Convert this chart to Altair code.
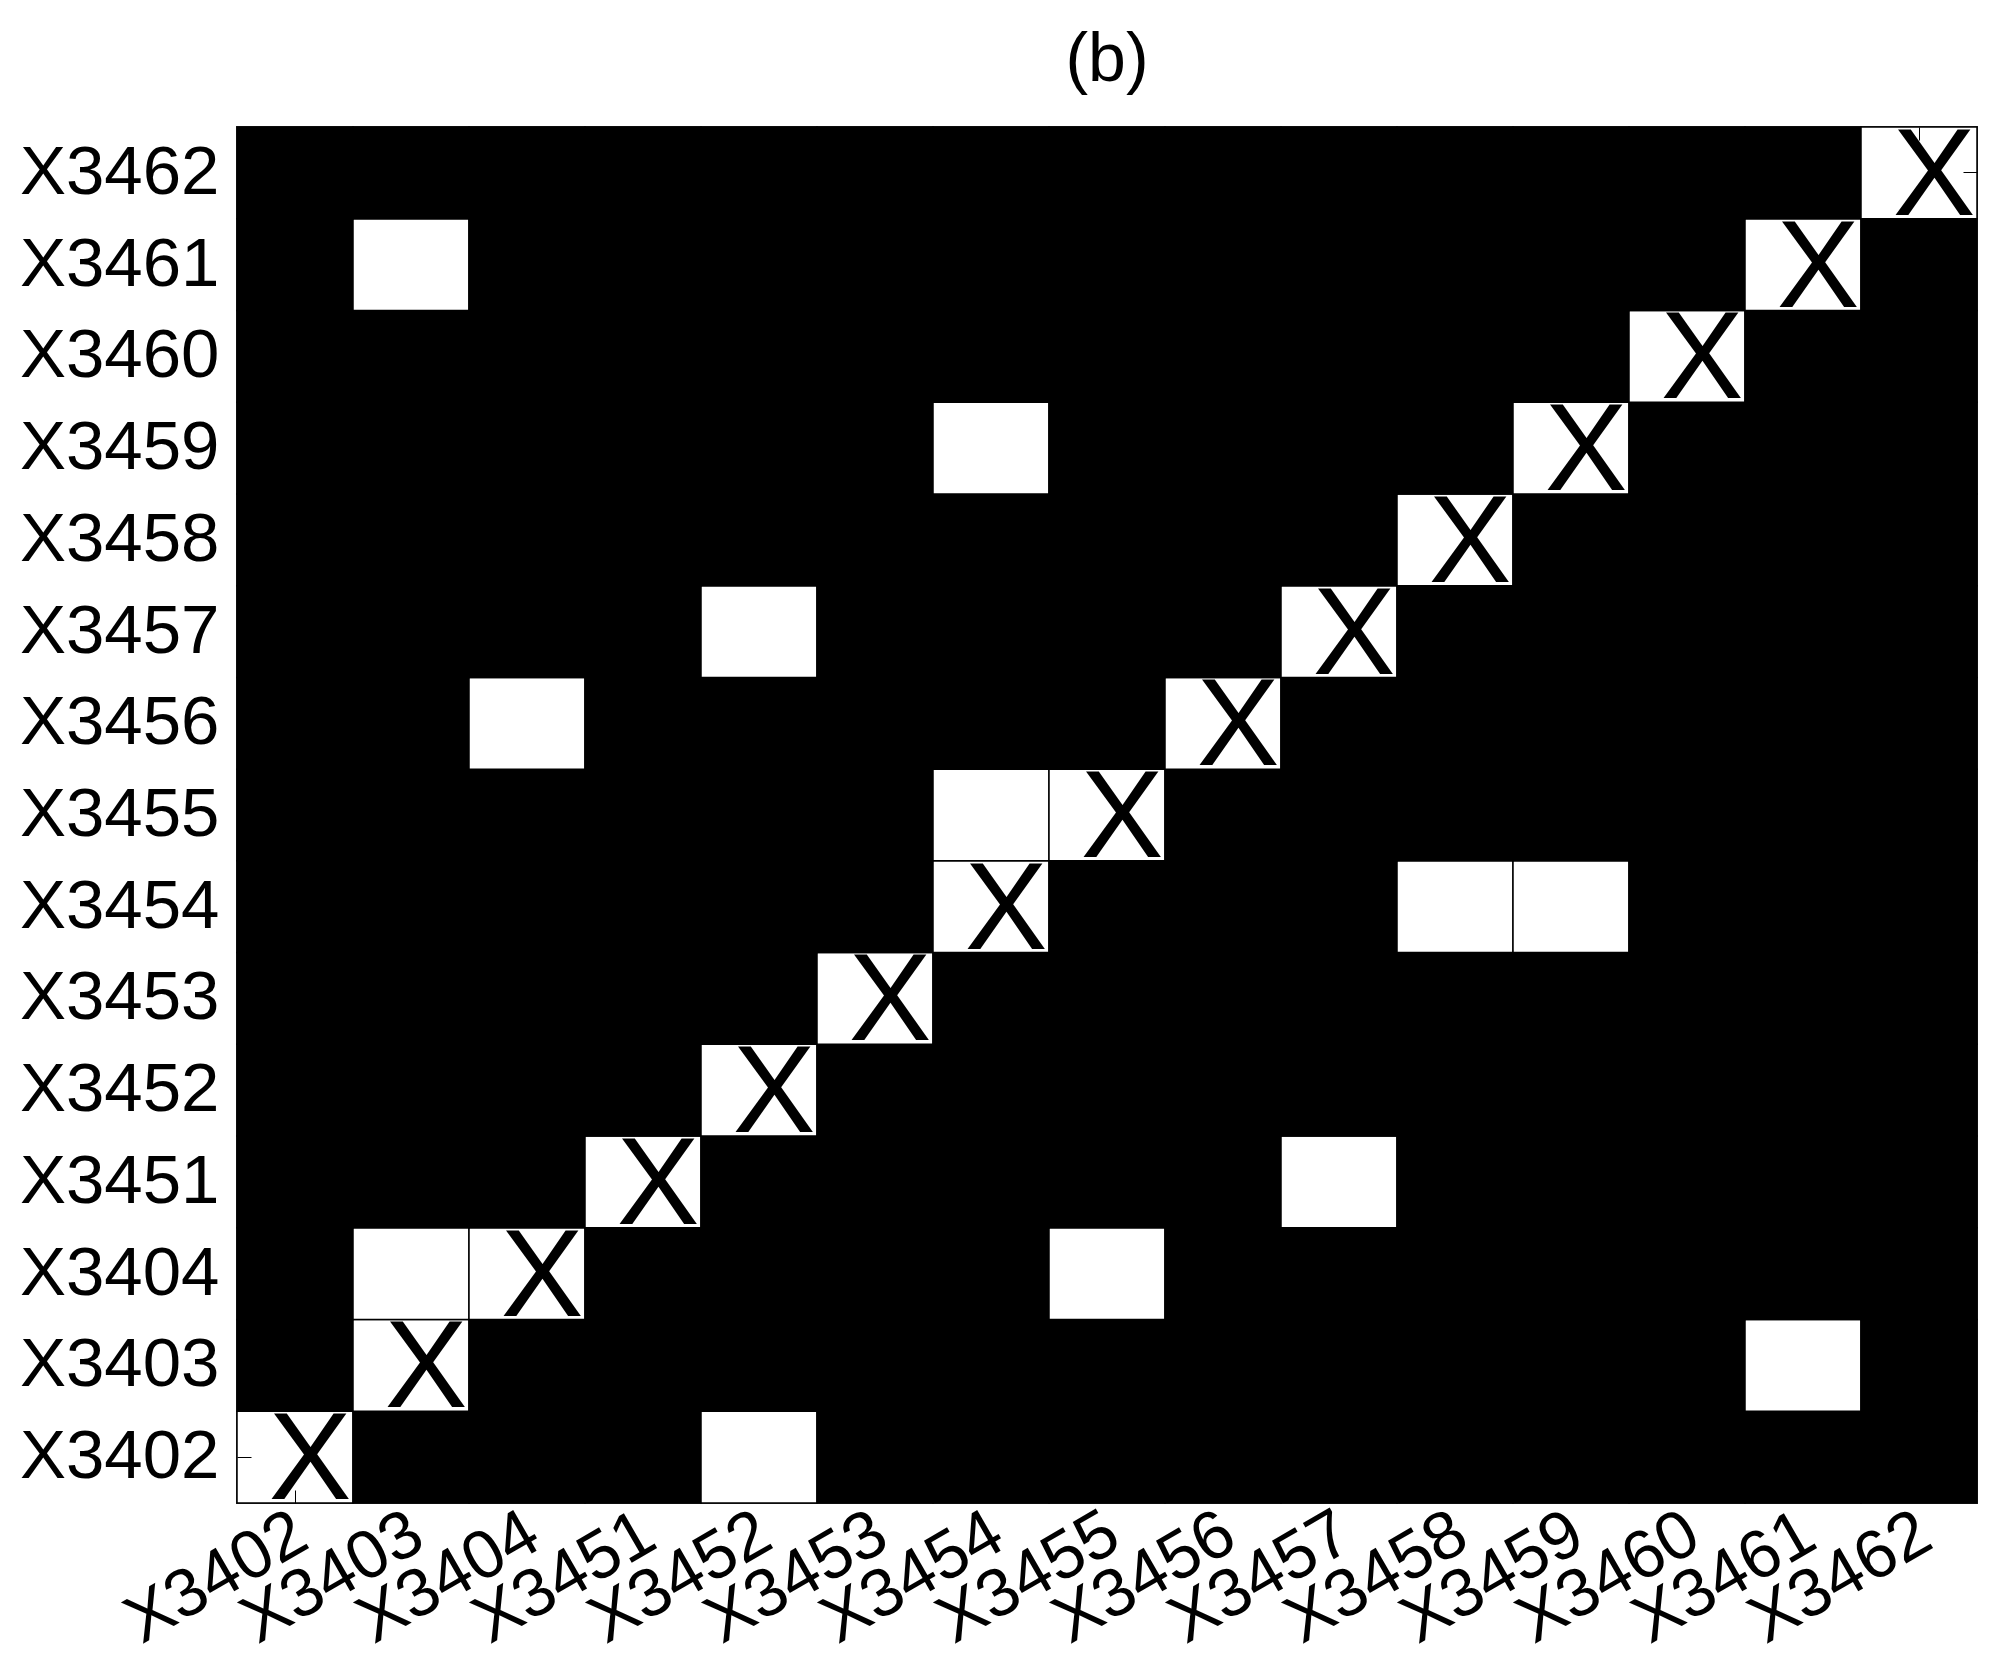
import altair as alt
import pandas as pd

labels = ["X3402", "X3403", "X3404", "X3451", "X3452", "X3453", "X3454", "X3455",
          "X3456", "X3457", "X3458", "X3459", "X3460", "X3461", "X3462"]

# off-diagonal white cells (row label, column label)
white_rows = ["X3461", "X3459", "X3457", "X3456", "X3455", "X3454", "X3454",
              "X3451", "X3404", "X3404", "X3403", "X3402"]
white_cols = ["X3403", "X3454", "X3452", "X3404", "X3454", "X3458", "X3459",
              "X3457", "X3403", "X3455", "X3461", "X3452"]

diag_mark = "X"
title_text = "(b)"

white = set(zip(white_rows, white_cols))
rows = []
for r in labels:
    for c in labels:
        v = 1 if (r == c or (r, c) in white) else 0
        rows.append({"row": r, "col": c, "value": v})
cells = pd.DataFrame(rows)
diag = pd.DataFrame({"row": labels, "col": labels, "mark": [diag_mark] * len(labels)})

FONT = "Liberation Sans"
x_sort = labels
y_sort = list(reversed(labels))

first_only = {"condition": {"test": f"datum.value == '{labels[0]}'", "value": 1}, "value": 0}
last_only = {"condition": {"test": f"datum.value == '{labels[-1]}'", "value": 1}, "value": 0}

base_x_axis = alt.Axis(
    orient="bottom", title=None, domain=False, grid=False,
    ticks=True, tickSize=13, tickColor="black", tickWidth=1, offset=-13,
    tickOpacity=first_only,
    labelFont=FONT, labelFontSize=68, labelColor="black", labelLimit=0,
    labelAngle=330, labelAlign="right", labelBaseline="top",
    labelPadding=-4, labelOffset=-10, zindex=1,
)
base_y_axis = alt.Axis(
    orient="left", title=None, domain=False, grid=False,
    ticks=True, tickSize=14, tickColor="black", tickWidth=1, offset=-14,
    tickOpacity=first_only,
    labelFont=FONT, labelFontSize=69, labelColor="black", labelLimit=0,
    labelPadding=18, zindex=1,
)

rects = alt.Chart(cells).mark_rect(stroke="black", strokeWidth=1.5).encode(
    x=alt.X("col:N", sort=x_sort, scale=alt.Scale(domain=x_sort, paddingInner=0, paddingOuter=0), axis=base_x_axis),
    y=alt.Y("row:N", sort=y_sort, scale=alt.Scale(domain=y_sort, paddingInner=0, paddingOuter=0), axis=base_y_axis),
    color=alt.Color("value:Q", scale=alt.Scale(domain=[0, 1], range=["black", "white"]), legend=None),
)

top_axis = alt.Axis(
    orient="top", title=None, domain=False, grid=False, labels=False,
    ticks=True, tickSize=13, tickColor="black", tickWidth=1, offset=-13,
    tickOpacity=last_only, zindex=1,
)
right_axis = alt.Axis(
    orient="right", title=None, domain=False, grid=False, labels=False,
    ticks=True, tickSize=14, tickColor="black", tickWidth=1, offset=-14,
    tickOpacity=last_only, zindex=1,
)

texts = alt.Chart(diag).mark_text(
    font=FONT, fontSize=124, color="black", dx=15, dy=5,
    align="center", baseline="middle",
).encode(
    x=alt.X("col:N", sort=x_sort, scale=alt.Scale(domain=x_sort, paddingInner=0, paddingOuter=0), axis=top_axis),
    y=alt.Y("row:N", sort=y_sort, scale=alt.Scale(domain=y_sort, paddingInner=0, paddingOuter=0), axis=right_axis),
    text="mark:N",
)

chart = alt.layer(rects, texts).resolve_axis(
    x="independent", y="independent"
).properties(
    width=1740, height=1376,
    autosize=alt.AutoSizeParams(type="none"),
    padding={"left": 229, "top": 119, "right": 4, "bottom": 160},
    title=alt.TitleParams(
        title_text, font=FONT, fontSize=68, fontWeight="normal", color="black",
        anchor="middle", offset=21, frame="group",
    ),
    background="white",
).configure_view(
    fill="black", stroke="#333333", strokeWidth=2,
)

chart.save("out.html", embed_options={"renderer": "svg", "actions": False})
